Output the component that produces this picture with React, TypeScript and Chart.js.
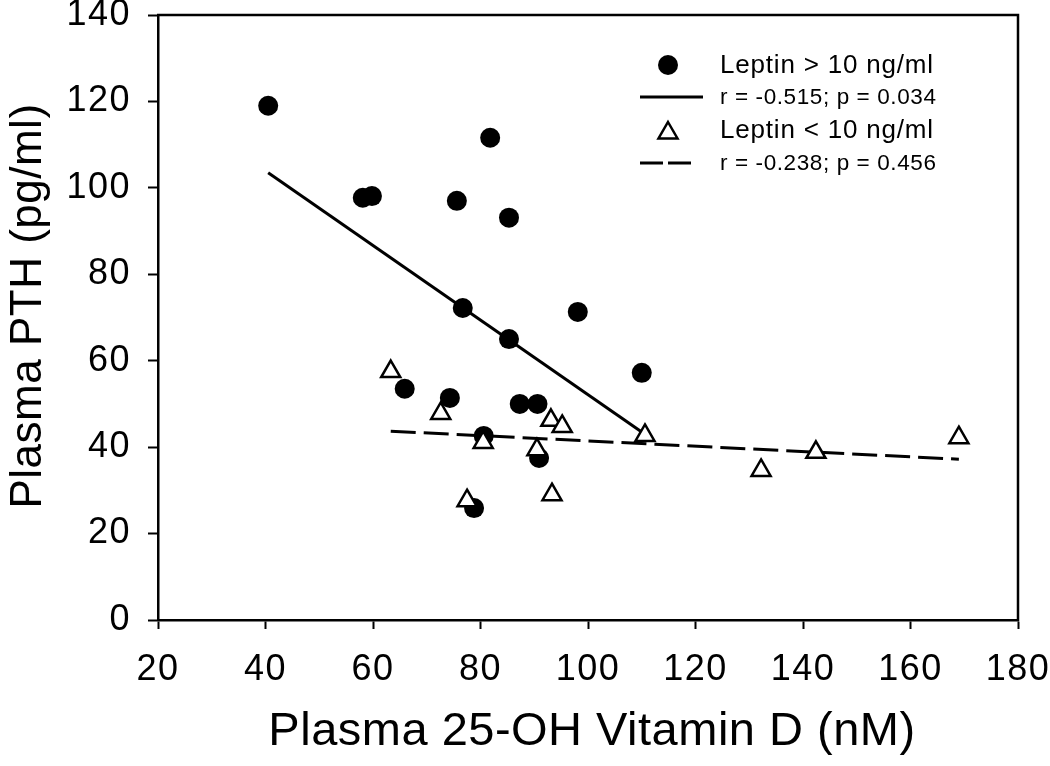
import { useEffect, useRef } from "react";
import { Chart, registerables } from "chart.js";

Chart.register(...registerables);

// Leptin > 10 ng/ml (filled circles)
const highLeptinX = [40.5, 58.1, 59.8, 75.6, 81.8, 85.3, 76.7, 98.1, 85.3, 110.0, 65.9, 74.3, 87.3, 90.6, 80.6, 90.9, 78.8];
const highLeptinY = [119.0, 97.7, 98.1, 97.0, 111.6, 93.1, 72.2, 71.3, 65.0, 57.2, 53.5, 51.4, 50.0, 50.0, 42.6, 37.5, 25.9];

// Leptin < 10 ng/ml (open triangles)
const lowLeptinX = [63.3, 72.6, 80.5, 93.1, 95.2, 90.5, 110.6, 93.3, 77.5, 132.2, 142.4, 169.0];
const lowLeptinY = [57.5, 47.8, 41.1, 46.2, 44.8, 39.4, 42.7, 29.0, 27.6, 34.6, 38.8, 42.2];

// Regression lines (end points)
const highFitX = [40.5, 110.0];
const highFitY = [103.5, 43.5];
const lowFitX = [63.3, 169.0];
const lowFitY = [43.7, 37.2];

const xTicks = [20, 40, 60, 80, 100, 120, 140, 160, 180];
const yTicks = [0, 20, 40, 60, 80, 100, 120, 140];

const legendLabels = [
  "Leptin > 10 ng/ml",
  "r = -0.515; p = 0.034",
  "Leptin < 10 ng/ml",
  "r = -0.238; p = 0.456",
];
const xTitle = "Plasma 25-OH Vitamin D (nM)";
const yTitle = "Plasma PTH (pg/ml)";

const FONT = "'Liberation Sans', Arial, Helvetica, sans-serif";

const toPoints = (xs: number[], ys: number[]) => xs.map((x, i) => ({ x, y: ys[i] }));

const spacing = {
  id: "spacing",
  beforeDraw(chart: any) {
    (chart.ctx as any).letterSpacing = "1.5px";
  },
};

const decor = {
  id: "decor",
  afterDraw(chart: any) {
    const { ctx, chartArea: a } = chart;
    ctx.save();
    // frame top + right
    ctx.strokeStyle = "#000";
    ctx.lineWidth = 2.5;
    ctx.beginPath();
    ctx.moveTo(a.left - 1, a.top);
    ctx.lineTo(a.right, a.top);
    ctx.lineTo(a.right, a.bottom + 1);
    ctx.stroke();

    // legend
    ctx.fillStyle = "#000";
    ctx.textAlign = "left";
    ctx.textBaseline = "middle";
    ctx.beginPath();
    ctx.arc(668, 65, 10, 0, Math.PI * 2);
    ctx.fill();
    ctx.font = `26px ${FONT}`;
    (ctx as any).letterSpacing = "0.8px";
    ctx.fillText(legendLabels[0], 720, 66);
    ctx.lineWidth = 3;
    ctx.beginPath();
    ctx.moveTo(640, 97);
    ctx.lineTo(703, 97);
    ctx.stroke();
    ctx.font = `22.5px ${FONT}`;
    (ctx as any).letterSpacing = "0.6px";
    ctx.fillText(legendLabels[1], 720, 98);
    const r = 11;
    const tx = 668, ty = 133;
    ctx.beginPath();
    ctx.moveTo(tx, ty - r);
    ctx.lineTo(tx + r * 0.866, ty + r / 2);
    ctx.lineTo(tx - r * 0.866, ty + r / 2);
    ctx.closePath();
    ctx.fillStyle = "#fff";
    ctx.fill();
    ctx.lineWidth = 2.5;
    ctx.stroke();
    ctx.fillStyle = "#000";
    ctx.font = `26px ${FONT}`;
    (ctx as any).letterSpacing = "0.8px";
    ctx.fillText(legendLabels[2], 720, 131);
    ctx.lineWidth = 3;
    ctx.setLineDash([23, 5]);
    ctx.beginPath();
    ctx.moveTo(640, 163);
    ctx.lineTo(693, 163);
    ctx.stroke();
    ctx.setLineDash([]);
    ctx.font = `22.5px ${FONT}`;
    (ctx as any).letterSpacing = "0.6px";
    ctx.fillText(legendLabels[3], 720, 164);

    // axis titles
    (ctx as any).letterSpacing = "0.5px";
    ctx.font = `47px ${FONT}`;
    ctx.textAlign = "center";
    ctx.textBaseline = "alphabetic";
    ctx.fillText(xTitle, 592, 745);
    ctx.translate(41, 306);
    ctx.rotate(-Math.PI / 2);
    ctx.font = `44px ${FONT}`;
    ctx.fillText(yTitle, 0, 0);
    ctx.restore();
  },
};

const zeroPad = (s: any) => {
  s.paddingTop = 0;
  s.paddingBottom = 0;
  s.paddingLeft = 0;
  s.paddingRight = 0;
};

export default function App() {
  const ref = useRef<HTMLCanvasElement>(null);
  useEffect(() => {
    if (!ref.current) return;
    const chart = new Chart(ref.current, {
      type: "scatter",
      data: {
        datasets: [
          {
            label: legendLabels[2],
            data: toPoints(lowLeptinX, lowLeptinY),
            pointStyle: "triangle",
            pointRadius: 11,
            pointBackgroundColor: "#fff",
            pointBorderColor: "#000",
            pointBorderWidth: 2.5,
            showLine: false,
          },
          {
            label: legendLabels[0],
            data: toPoints(highLeptinX, highLeptinY),
            pointStyle: "circle",
            pointRadius: 10,
            pointBackgroundColor: "#000",
            pointBorderColor: "#000",
            pointBorderWidth: 0,
            showLine: false,
          },
          {
            label: legendLabels[1],
            data: toPoints(highFitX, highFitY),
            showLine: true,
            borderColor: "#000",
            borderWidth: 3,
            pointRadius: 0,
          },
          {
            label: legendLabels[3],
            data: toPoints(lowFitX, lowFitY),
            showLine: true,
            borderColor: "#000",
            borderWidth: 3,
            borderDash: [25, 8],
            pointRadius: 0,
          },
        ],
      },
      options: {
        animation: false,
        responsive: false,
        layout: { padding: { top: 15, right: 32, left: 0, bottom: 0 } },
        plugins: { legend: { display: false }, tooltip: { enabled: false } },
        scales: {
          x: {
            type: "linear",
            min: 20,
            max: 180,
            afterBuildTicks: (s: any) => {
              s.ticks = xTicks.map((v) => ({ value: v }));
            },
            afterFit: (s: any) => {
              s.height = 146;
              zeroPad(s);
            },
            ticks: {
              color: "#000",
              font: { family: FONT, size: 36 },
              padding: 19,
              maxRotation: 0,
              autoSkip: false,
            },
            grid: {
              display: true,
              drawOnChartArea: false,
              drawTicks: true,
              tickLength: 9,
              tickColor: "#000",
              tickWidth: 2,
            },
            border: { display: true, color: "#000", width: 2.5 },
          },
          y: {
            type: "linear",
            min: 0,
            max: 140,
            afterBuildTicks: (s: any) => {
              s.ticks = yTicks.map((v) => ({ value: v }));
            },
            afterFit: (s: any) => {
              s.width = 158;
              zeroPad(s);
            },
            ticks: {
              color: "#000",
              font: { family: FONT, size: 36, lineHeight: 0.8 },
              padding: 17,
              autoSkip: false,
            },
            grid: {
              display: true,
              drawOnChartArea: false,
              drawTicks: true,
              tickLength: 10,
              tickColor: "#000",
              tickWidth: 2,
            },
            border: { display: true, color: "#000", width: 2.5 },
          },
        },
      },
      plugins: [spacing, decor],
    } as any);
    return () => chart.destroy();
  }, []);
  return (
    <div style={{ position: "fixed", left: 0, top: 0, width: 1050, height: 766, background: "#fff" }}>
      <canvas ref={ref} width={1050} height={766} style={{ display: "block" }} />
    </div>
  );
}
